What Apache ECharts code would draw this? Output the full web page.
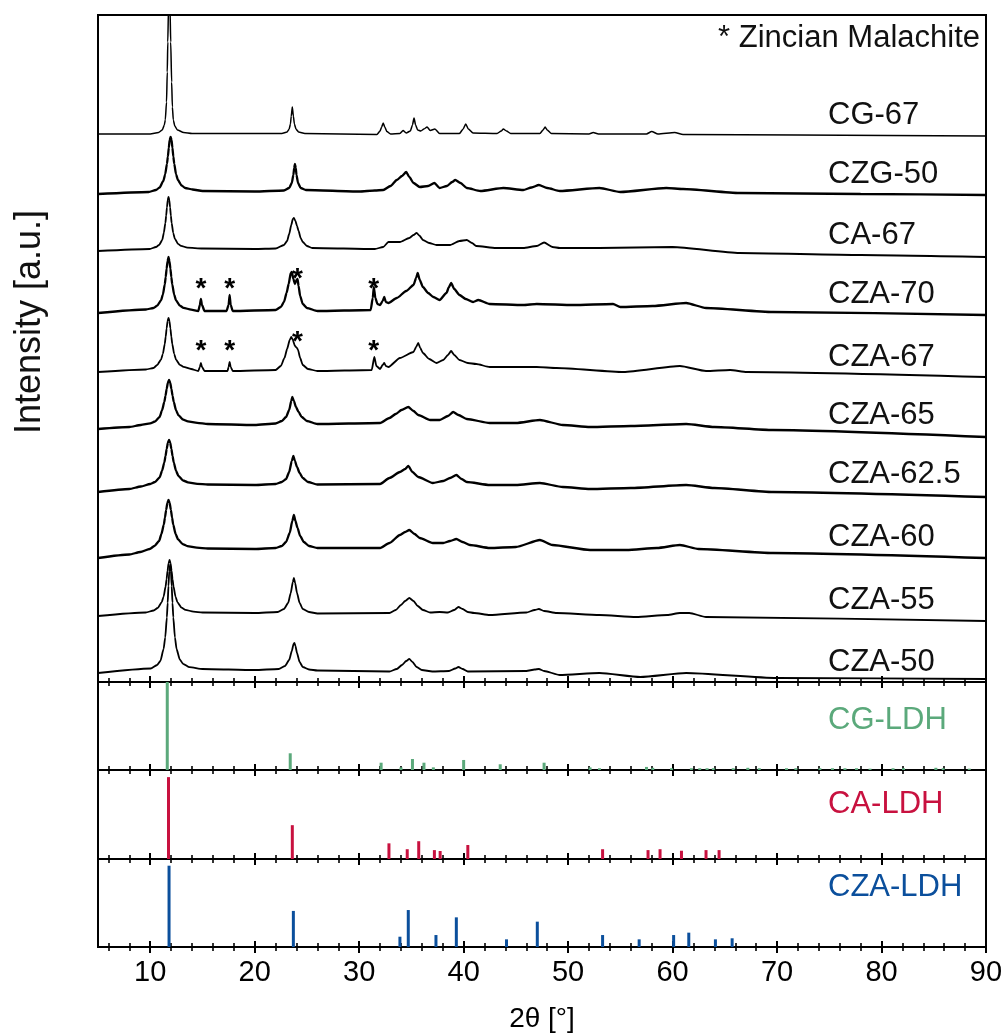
<!DOCTYPE html>
<html><head><meta charset="utf-8">
<script src="https://cdn.jsdelivr.net/npm/echarts@6/dist/echarts.min.js"></script>
<style>html,body{margin:0;padding:0;background:#fff}#c{width:1005px;height:1033px}</style>
</head><body><div id="c"></div><script>
// ---- tick values ----
const xMajorTicks = [10,20,30,40,50,60,70,80,90];
const xMinorTicks = [6,8,12,14,16,18,22,24,26,28,32,34,36,38,42,44,46,48,52,54,56,58,62,64,66,68,72,74,76,78,82,84,86,88];

// ---- stacked XRD patterns [2theta, intensity a.u.] ----
const traceNames = ['CG-67','CZG-50','CA-67','CZA-70','CZA-67','CZA-65','CZA-62.5','CZA-60','CZA-55','CZA-50'];
const cg67 = [[5,548],[10,548],[10.8,549.5],[11.15,552],[11.35,557],[11.44,562],[11.56,580],[11.63,610],[11.68,640],[11.75,675],[11.82,700],[11.89,675],[11.96,640],[12.05,600],[12.12,575],[12.21,562],[12.35,556],[12.6,552],[13.2,549.5],[14,548.5],
[22.6,548.5],[23.1,550],[23.3,553],[23.42,558],[23.5,566],[23.6,575],[23.7,566],[23.8,558],[23.95,553],[24.2,550],[24.8,548.5],
[31.7,547.5],[32.0,551],[32.15,555],[32.3,559],[32.45,555],[32.65,550.5],[33,548],[33.9,548.5],[34.2,551.5],[34.5,549],[34.9,551],[35.1,557],[35.25,564],[35.4,557],[35.6,552],[35.9,551],[36.2,553],[36.5,555],[36.8,551.5],[37.25,553],[37.7,548.5],
[39.6,548.5],[39.95,553],[40.2,558],[40.45,553],[40.9,549],[43.2,548.5],[43.6,551],[43.8,553],[44.1,551],[44.5,548.5],[47.3,548.5],[47.6,552],[47.8,555],[48.0,552],[48.4,548.5],[52.0,548],[52.4,549.5],[52.9,548],[57.5,548],[58.0,550.5],[58.6,548],[60.2,549.5],[61,547.5],[72,547],[90,546]];
const czg50 = [[5,488],[9.85,490],[10.55,492],[10.9,494.5],[11.25,501],[11.43,507.7],[11.6,518],[11.69,525.5],[11.775,534],[11.86,542],[11.95,545],[12.04,542],[12.125,534],[12.21,525.5],[12.3,518],[12.47,507.7],[12.65,502],[13.0,496.5],[13.35,494],[14.05,492.5],[15,491],[20,490.5],[22.8,491.5],[23.3,494],[23.55,499],[23.7,507],[23.78,514],[23.85,518],[23.93,514],[24.0,507],[24.15,499],[24.4,494],[24.9,492],[30,490.5],[31.5,491.5],[32.3,492],[33.0,496],[33.6,502],[34.1,506],[34.5,510],[34.8,505],[35.2,499],[35.8,495],[36.6,496],[37.2,499],[37.7,494],[38.4,496],[38.9,500],[39.2,502],[39.7,499],[40.3,494],[41.6,491],[43.8,494],[45.7,492],[46.5,494.5],[47.2,497],[48,494],[49.2,491],[53.0,494],[55,490],[59.4,494],[61.0,493],[66.4,489],[78,488],[90,487]];
const ca67 = [[5,431],[9.95,433],[10.55,435],[10.85,437],[11.15,442],[11.3,449.1],[11.45,459],[11.525,466.3],[11.6,474.6],[11.675,481.9],[11.75,485],[11.825,481.9],[11.9,474.6],[11.975,466.3],[12.05,459],[12.2,449.1],[12.35,443.4],[12.65,438.2],[12.95,436.1],[13.55,434.4],[15,433.5],[20,433],[22.0,433.5],[22.8,437],[23.1,441],[23.3,448],[23.5,457],[23.65,463],[23.75,464],[23.9,461],[24.05,456],[24.2,451],[24.4,444],[24.6,440],[25.0,436],[25.5,434],[31.5,433],[32.3,435],[32.8,440],[33.9,440],[34.8,444],[35.2,447],[35.5,449],[35.8,446],[36.1,442],[36.7,439],[37.4,437],[38.7,437],[39.6,441],[40.3,442],[40.8,439],[41.2,436],[43.1,434],[45.7,434],[47.0,436],[47.7,439.5],[48.5,435],[49.2,434],[53.0,434],[60.0,435],[66.4,429],[78,427],[90,425]];
const cza70 = [[5,369],[9.59,372.5],[10.31,374],[10.67,376.3],[11.03,381.6],[11.21,387.4],[11.39,397.5],[11.48,404.9],[11.57,413.4],[11.66,420.8],[11.75,425],[11.84,420.8],[11.93,413.4],[12.02,404.9],[12.11,397.5],[12.29,387.4],[12.47,381.6],[12.83,376.3],[13.19,374.1],[13.91,372.4],[14.6,371],[14.75,377],[14.85,383],[14.95,377],[15.2,371],[17.3,371],[17.5,377],[17.6,387],[17.7,377],[17.9,371],[22,372],[22.5,375],[22.8,380],[23.05,389],[23.25,398],[23.45,409],[23.55,410],[23.7,403],[23.85,398],[24.0,402],[24.1,403],[24.2,396],[24.35,386],[24.6,378],[25.0,374],[26,371],[31.1,372],[31.3,384],[31.4,395],[31.55,384],[31.75,378],[32.0,377],[32.25,381],[32.4,385],[32.55,380],[32.8,379],[33.6,384],[34.5,391],[35.2,397],[35.45,404],[35.6,409],[35.8,402],[36.1,395],[36.6,389],[37.1,385],[37.7,382],[38.35,389],[38.6,395],[38.8,399],[39.1,393],[39.6,387],[40.2,383],[40.9,380],[41.4,382],[42.5,378],[45.7,377],[47,378],[50.5,377],[54.3,378],[55,375],[58.1,376],[61.3,379],[63.2,374],[69.6,370],[90,367]];
const cza67 = [[5,310],[9.59,312.5],[10.31,314],[10.67,317],[11.03,322.4],[11.21,328.1],[11.39,338],[11.48,345.3],[11.57,353.6],[11.66,360.9],[11.75,364],[11.84,360.9],[11.93,353.6],[12.02,345.3],[12.11,338],[12.29,328.1],[12.47,322.4],[12.83,317.2],[13.19,315.1],[13.91,313],[14.6,311],[14.75,315],[14.85,319],[14.95,315],[15.2,311],[17.4,311],[17.5,315],[17.6,320],[17.7,315],[17.9,311],[22,312],[22.5,316],[22.85,324],[23.1,333],[23.35,342],[23.5,345],[23.65,342],[23.85,336],[24.05,334],[24.15,332],[24.35,324],[24.6,317],[25.1,313],[26,311],[31.2,312],[31.45,325],[31.65,316],[32.0,313],[32.25,317],[32.4,319],[32.55,316],[32.8,315],[33.9,324],[35.2,330],[35.45,335],[35.65,339],[35.85,334],[36.1,329],[36.7,323],[37.4,319],[38.05,322],[38.5,327],[38.8,331],[39.1,327],[39.6,322],[40.4,319],[41.2,318],[42.5,315],[47,315],[48.9,314],[55.3,310],[60.7,316],[63.2,311],[65.5,312],[67.1,310],[90,305]];
const cza65 = [[5,253],[8,255],[9.1,257],[10.0,258.6],[10.45,260.5],[10.9,265],[11.125,271.6],[11.35,280],[11.46,286.2],[11.575,293.2],[11.69,299.4],[11.8,302],[11.91,299.4],[12.025,293.2],[12.14,286.2],[12.25,280],[12.475,271.6],[12.7,266.8],[13.15,262.4],[13.6,260.6],[14.5,259.2],[15.5,258],[20,257],[22,258.5],[22.6,261],[23.0,265],[23.3,272],[23.5,281],[23.6,285],[23.75,281],[23.95,275],[24.2,270],[24.5,265],[25,261],[26,258],[32,259],[32.9,264],[33.5,268],[34.05,272],[34.7,275],[35.2,271],[35.65,267],[36.8,262],[37.7,262],[38.5,266],[39.0,270],[39.5,267],[40.3,263],[42.5,259],[45,259],[47.3,262],[49.5,257],[52.1,255],[56,256],[61.3,258],[64,255],[69.6,252],[90,245]];
const cza625 = [[5,190],[8,193],[9.1,195.5],[10.0,198],[10.45,200],[10.9,204.5],[11.125,211],[11.35,219.5],[11.46,225.8],[11.575,233],[11.69,239.3],[11.8,242],[11.91,239.3],[12.025,233],[12.14,225.8],[12.25,219.5],[12.475,211],[12.7,206],[13.15,201.5],[13.6,199.7],[14.5,198.2],[15.5,197.5],[20,197],[22,198],[22.6,200],[23.0,203],[23.3,210],[23.55,221],[23.7,226],[23.85,221],[24.05,215],[24.3,209],[24.6,204],[25.1,200],[26,197.5],[32,198],[32.9,204],[33.9,210],[34.4,213],[34.7,216],[35.1,210],[35.65,205],[37.05,199],[38.05,201],[38.7,204],[39.3,207],[39.8,203],[40.3,200],[42.5,197],[45,197],[47.3,199],[49.5,195],[52.1,193],[56,194],[61.3,197],[64,194],[69.6,190],[90,185]];
const cza60 = [[5,124],[8,127.5],[9.05,130],[9.95,133],[10.4,136],[10.85,141],[11.075,148.2],[11.3,157.5],[11.41,164.4],[11.525,172.2],[11.64,179],[11.75,182],[11.86,179],[11.975,172.2],[12.09,164.4],[12.2,157.5],[12.425,148.2],[12.65,142.8],[13.1,137.9],[13.55,135.9],[14.45,134.3],[15.5,133.5],[20,133],[22,134],[22.6,136],[23.0,140],[23.35,149],[23.6,161],[23.75,167],[23.9,161],[24.1,154],[24.35,146],[24.7,140],[25.2,136],[26,134],[32,134],[32.9,139],[33.9,147],[34.4,150],[34.8,152],[35.3,148],[35.8,144],[37.05,139],[38.05,139],[38.7,141],[39.3,143],[39.9,140],[40.6,137],[42.5,134],[45,135],[47.3,142],[48.5,137],[52.1,132],[55.6,132],[58.5,134],[60.7,137],[62.5,133],[69.6,129],[90,124]];
const cza55 = [[5,66],[9.57,69.5],[10.33,71.5],[10.71,74],[11.09,79.6],[11.28,85.4],[11.47,95.5],[11.565,102.9],[11.66,111.4],[11.755,118.8],[11.85,122],[11.945,118.8],[12.04,111.4],[12.135,102.9],[12.23,95.5],[12.42,85.4],[12.61,79.6],[12.99,74.3],[13.37,72.1],[14.13,70.4],[15,69.5],[20,69],[22.2,70],[22.8,73],[23.2,79],[23.45,89],[23.65,100],[23.75,104],[23.87,99],[24.05,89],[24.3,79],[24.6,73],[25.2,70],[26,68.5],[32.9,69],[33.5,72],[34.0,77],[34.4,81],[34.8,84],[35.2,81],[35.6,76],[36.1,72],[36.8,69.5],[37.7,70],[38.5,69.5],[39.1,72],[39.5,75],[39.9,73],[40.4,70],[41,69],[42.5,67],[46,69.5],[46.8,72],[47.2,73],[47.7,71],[48.9,69],[53.0,67],[56.5,65],[59.5,67],[60.7,69],[61.6,69],[63.2,65],[90,61]];
const cza50 = [[5,9],[10.04,13.5],[10.66,17],[10.97,21],[11.28,33],[11.435,44.6],[11.59,64.5],[11.67,79.2],[11.745,96],[11.82,110.7],[11.9,117],[11.98,110.7],[12.055,96],[12.13,79.2],[12.21,64.5],[12.365,44.6],[12.52,33],[12.83,22.5],[13.14,18.2],[13.76,14.8],[15,13],[20,12],[22.3,13],[22.9,16],[23.3,22],[23.55,31],[23.72,38],[23.8,39],[23.9,36],[24.05,29],[24.3,20],[24.6,15],[25.2,12.5],[26,11.5],[32.9,10.5],[33.6,13],[34.1,17],[34.5,21],[34.8,23],[35.1,20],[35.5,15],[36,12],[37,10.5],[38.6,11],[39.2,13.5],[39.5,15],[39.9,13],[40.4,10.5],[46,11],[46.8,12.5],[47.2,13],[47.7,11],[49.2,7],[53.0,9],[56.9,5],[61.3,9],[70,4],[90,3]];

// ---- reference stick patterns [2theta, relative intensity %] ----
const refNames = ['CG-LDH','CA-LDH','CZA-LDH'];
const refCG = [[11.63,100],[23.4,19],[32.1,8.3],[34.0,3],[35.1,12.5],[36.2,8.3],[37.1,3],[40.0,11.4],[43.5,6.5],[47.7,8.3],[52.1,3],[53.0,2],[57.5,3.5],[58.1,2.5],[59.9,2],[61.8,2],[62.6,2],[63.3,2],[63.9,2],[65.8,2],[67.2,2.5],[68.3,2],[70.9,2],[71.8,2],[74.1,2],[75.3,2],[76.5,2],[77.6,2],[78.9,1.5],[81.1,2],[82.1,2],[85.2,2.5],[85.9,2],[88.4,1.5]];
const refCA = [[11.75,92],[23.6,38],[32.85,17.6],[34.6,11],[35.7,20],[37.2,10],[37.75,9],[40.4,15.7],[53.3,11],[57.65,10],[58.8,11],[60.85,9.3],[63.2,10],[64.45,10]];
const refCZA = [[11.8,92.4],[23.7,41],[33.9,11.7],[34.7,42],[37.35,13.6],[39.3,33.7],[44.1,8.7],[47.05,28.8],[53.3,13.6],[56.8,8.7],[60.1,13.6],[61.55,16.3],[64.1,8.7],[65.7,9.9]];
const malachiteMarks = [14.85,17.6,24.1,31.4];

const FONT = '"Liberation Sans", Arial, Helvetica, sans-serif';
const chart = echarts.init(document.getElementById('c'), null, {renderer:'canvas'});

const panels = [{top:15,height:667},{top:682,height:88},{top:770,height:89},{top:859,height:88}];
const grids = panels.map(p => ({left:98, width:888, top:p.top, height:p.height, show:true,
  borderColor:'#000', borderWidth:2, backgroundColor:'transparent', containLabel:false, outerBoundsMode:'none'}));

const xAxes = [];
panels.forEach((p, g) => {
  const mk = (vals, inside, len, w, extra) => Object.assign({
    gridIndex:g, type:'value', min:5, max:90, position:'bottom',
    axisLine:{show:false, onZero:false}, splitLine:{show:false}, minorTick:{show:false},
    axisLabel:{show:false},
    axisTick:{show:true, inside:inside, length:len, customValues:vals, lineStyle:{color:'#000', width:w}}
  }, extra || {});
  let lab = {};
  if (g === 3) lab = {
    axisLabel:{show:true, customValues:xMajorTicks, color:'#000', fontSize:29, fontFamily:FONT, margin:11},
    name:'2θ [°]', nameLocation:'middle', nameGap:58, nameTextStyle:{color:'#000', fontSize:28, fontFamily:FONT}
  };
  xAxes.push(mk(xMajorTicks, true, 6, 2));
  xAxes.push(mk(xMajorTicks, false, 6, 2, lab));
  xAxes.push(mk(xMinorTicks, true, 4, 1.6));
  xAxes.push(mk(xMinorTicks, false, 4, 1.6));
});
const yAxes = panels.map((p, g) => ({gridIndex:g, type:'value', min:0, max: g===0 ? 667 : 100, show:false}));

const traces = [cg67, czg50, ca67, cza70, cza67, cza65, cza625, cza60, cza55, cza50];
const noisy = {'CZG-50':1,'CZA-70':1,'CZA-65':1,'CZA-62.5':1,'CZA-60':1};
const series = traces.map((d, i) => ({
  name: traceNames[i], type:'line', xAxisIndex:0, yAxisIndex:0, data:d, symbol:'none',
  smooth:0.2, smoothMonotone:'x',
  lineStyle:{color:'#000', width: i===0 ? 1.5 : (noisy[traceNames[i]] ? 2.3 : 1.8)}, silent:true, z:2
}));
const refColors = ['#5ba97b','#c8113f','#0b4f9c'];
[refCG, refCA, refCZA].forEach((d, k) => {
  series.push({name:refNames[k], type:'bar', xAxisIndex:4*(k+1), yAxisIndex:k+1, data:d,
    barWidth:3, itemStyle:{color:refColors[k]}, silent:true, animation:false});
});

const labelYs = [115,174,235,294,357,415,474,537,600,662];
const graphic = traceNames.map((t, i) => ({type:'text', x:828, y:labelYs[i], z:10,
  style:{text:t, fill:'#111', font:'31px '+FONT, verticalAlign:'middle', textVerticalAlign:'middle'}}));
const refYs = [720,804,887];
refNames.forEach((t, k) => graphic.push({type:'text', x:828, y:refYs[k], z:10,
  style:{text:t, fill:refColors[k], font:'31px '+FONT, verticalAlign:'middle', textVerticalAlign:'middle'}}));
graphic.push({type:'text', x:980, y:38, z:10, style:{text:'* Zincian Malachite', fill:'#111', font:'31px '+FONT,
  align:'right', textAlign:'right', verticalAlign:'middle', textVerticalAlign:'middle'}});
graphic.push({type:'text', x:30, y:322, rotation:Math.PI/2, z:10, style:{text:'Intensity [a.u.]', fill:'#111', font:'36px '+FONT,
  align:'center', textAlign:'center', verticalAlign:'middle', textVerticalAlign:'middle'}});

chart.setOption({
  animation:false, backgroundColor:'#fff',
  grid:grids, xAxis:xAxes, yAxis:yAxes, series:series, graphic:graphic
});

// asterisks placed at data coordinates of the malachite reflections
const starRows = [{name:'CZA-70', v:[393,393,403,393]}, {name:'CZA-67', v:[331,331,340,331]}];
const extra = [];
starRows.forEach(r => r.v.forEach((v, j) => {
  const p = chart.convertToPixel({xAxisIndex:0, yAxisIndex:0}, [malachiteMarks[j], v]);
  extra.push({type:'text', x:p[0], y:p[1], z:10, style:{text:'*', fill:'#000', font:'bold 28px '+FONT,
    align:'center', textAlign:'center', verticalAlign:'middle', textVerticalAlign:'middle'}});
}));
chart.setOption({graphic: graphic.concat(extra)});
</script></body></html>
